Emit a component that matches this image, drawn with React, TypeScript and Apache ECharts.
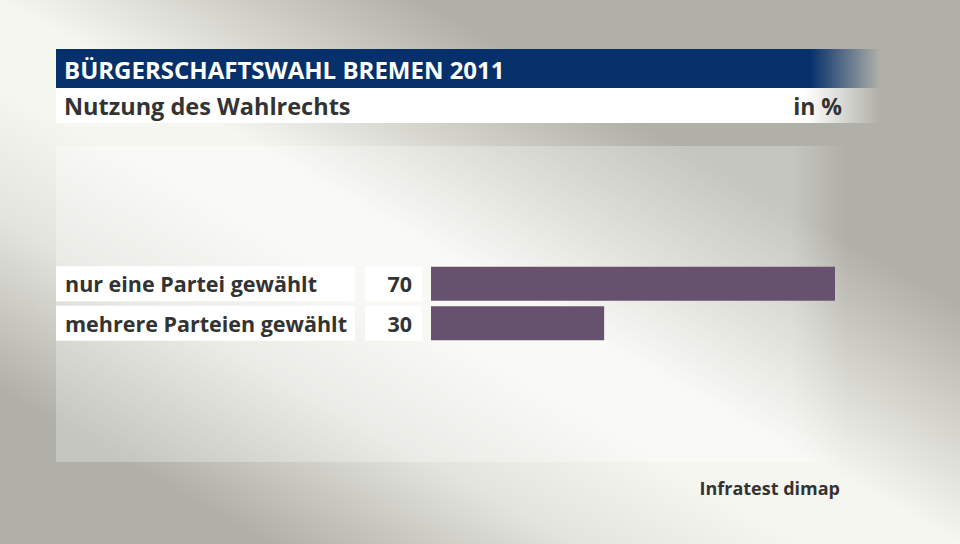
import React, { useEffect, useRef } from "react";
import * as echarts from "echarts";

const categories = ["nur eine Partei gewählt", "mehrere Parteien gewählt"];
const values = [70, 30];
const title = "BÜRGERSCHAFTSWAHL BREMEN 2011";
const subtitle = "Nutzung des Wahlrechts";
const unit = "in %";
const source = "Infratest dimap";

const FONT = "'Open Sans', 'Noto Sans', sans-serif";

export default function App() {
  const ref = useRef<HTMLDivElement>(null);
  useEffect(() => {
    if (!ref.current) return;
    const chart = echarts.init(ref.current, undefined, { renderer: "svg" });
    chart.setOption({
      animation: false,
      backgroundColor: "transparent",
      textStyle: { fontFamily: FONT },
      grid: { left: 431, top: 264, width: 404, height: 79, containLabel: false },
      xAxis: {
        type: "value",
        min: 0,
        max: 70,
        show: false,
      },
      yAxis: {
        type: "category",
        data: categories,
        inverse: true,
        axisLine: { show: false },
        axisTick: { show: false },
        splitLine: { show: false },
        axisLabel: {
          margin: 9,
          formatter: (v: string, i: number) => `{a|${v}}{g|}{b|${values[i]}}`,
          rich: {
            a: {
              width: 290,
              height: 35,
              padding: [0, 0, 0, 9],
              backgroundColor: "#ffffff",
              color: "#333333",
              fontSize: 21.5,
              fontWeight: "bold",
              fontFamily: FONT,
              align: "left",
              verticalAlign: "middle",
            },
            g: { width: 10, height: 35 },
            b: {
              width: 47,
              height: 35,
              padding: [0, 10, 0, 0],
              backgroundColor: "#ffffff",
              color: "#333333",
              fontSize: 21.5,
              fontWeight: "bold",
              fontFamily: FONT,
              align: "right",
              verticalAlign: "middle",
            },
          },
        },
      },
      graphic: [
        {
          type: "rect",
          z: -10,
          shape: { x: 56, y: 146, width: 790, height: 316 },
          style: {
            fill: new echarts.graphic.LinearGradient(0, 0, 1, 0, [
              { offset: 0, color: "rgba(255,255,255,0.28)" },
              { offset: 0.93, color: "rgba(255,255,255,0.28)" },
              { offset: 1, color: "rgba(255,255,255,0)" },
            ]),
          },
        },
        {
          type: "rect",
          shape: { x: 56, y: 49, width: 824, height: 39 },
          style: {
            fill: new echarts.graphic.LinearGradient(0, 0, 1, 0, [
              { offset: 0, color: "rgba(6,48,106,1)" },
              { offset: 0.915, color: "rgba(6,48,106,1)" },
              { offset: 1, color: "rgba(6,48,106,0)" },
            ]),
          },
        },
        {
          type: "rect",
          shape: { x: 56, y: 88, width: 824, height: 35 },
          style: {
            fill: new echarts.graphic.LinearGradient(0, 0, 1, 0, [
              { offset: 0, color: "rgba(255,255,255,1)" },
              { offset: 0.91, color: "rgba(255,255,255,1)" },
              { offset: 1, color: "rgba(255,255,255,0)" },
            ]),
          },
        },
        {
          type: "text",
          x: 64,
          y: 69,
          style: {
            text: title,
            fill: "#ffffff",
            font: `bold 24px ${FONT}`,
            verticalAlign: "middle",
          },
        },
        {
          type: "text",
          x: 64,
          y: 106,
          style: {
            text: subtitle,
            fill: "#333333",
            font: `bold 23.5px ${FONT}`,
            verticalAlign: "middle",
          },
        },
        {
          type: "text",
          x: 842,
          y: 106,
          style: {
            text: unit,
            fill: "#333333",
            font: `bold 23px ${FONT}`,
            align: "right",
            verticalAlign: "middle",
          },
        },
        {
          type: "text",
          x: 840,
          y: 488,
          style: {
            text: source,
            fill: "#333333",
            font: `bold 18px ${FONT}`,
            align: "right",
            verticalAlign: "middle",
          },
        },
      ],
      series: [
        {
          type: "bar",
          data: values,
          barWidth: 34,
          itemStyle: { color: "#66526e" },
          label: { show: false },
          silent: true,
        },
      ],
    });
    return () => chart.dispose();
  }, []);
  return (
    <div
      style={{
        position: "fixed",
        left: 0,
        top: 0,
        width: 960,
        height: 544,
        background:
          "linear-gradient(to top right, #b0b0a8 0%, #b0b0a8 14%, #e4e4de 30%, #f6f6f1 42%, #f6f6f1 50%, #d6d6cf 60%, #b0b0a8 72%, #b0b0a8 100%)",
      }}
    >
      <div ref={ref} style={{ width: 960, height: 544 }} />
    </div>
  );
}
